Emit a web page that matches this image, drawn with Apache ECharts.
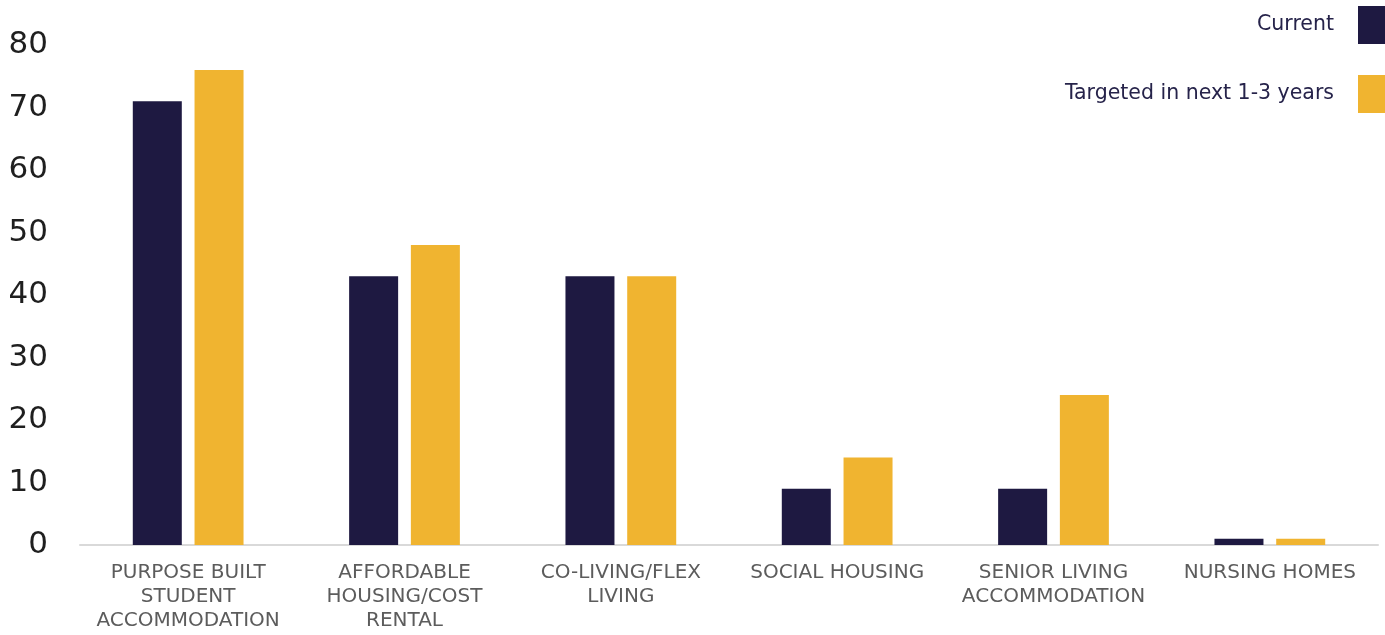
<!DOCTYPE html>
<html>
<head>
<meta charset="utf-8">
<script src="https://cdn.jsdelivr.net/npm/echarts@6/dist/echarts.min.js"></script>
<style>
  html, body { margin: 0; padding: 0; background: #ffffff; }
  #chart { width: 1385px; height: 635px; }
</style>
</head>
<body>
<div id="chart"></div>
<script>
// Living-sector allocations: current vs targeted
const categories = [
  'PURPOSE BUILT\nSTUDENT\nACCOMMODATION',
  'AFFORDABLE\nHOUSING/COST\nRENTAL',
  'CO-LIVING/FLEX\nLIVING',
  'SOCIAL HOUSING',
  'SENIOR LIVING\nACCOMMODATION',
  'NURSING HOMES'
];
const currentValues = [71, 43, 43, 9, 9, 1];
const targetedValues = [76, 48, 43, 14, 24, 1];
const seriesNames = ['Current', 'Targeted in next 1-3 years'];
const yTicks = { min: 0, max: 80, interval: 10 };

const NAVY = '#1e1941';
const GOLD = '#f0b430';
const FONT = '"DejaVu Sans", "Open Sans", sans-serif';

const chart = echarts.init(document.getElementById('chart'));
chart.setOption({
  animation: false,
  grid: { left: 80, right: 7, top: 45, bottom: 90, containLabel: false },
  legend: {
    orient: 'vertical',
    right: 0,
    top: 6,
    padding: 0,
    align: 'right',
    itemWidth: 27,
    itemHeight: 38,
    itemGap: 31,
    icon: 'rect',
    textStyle: { color: '#26234a', fontSize: 20.5, fontFamily: FONT, padding: [0, 19, 0, 0] },
    data: seriesNames
  },
  xAxis: {
    type: 'category',
    data: categories,
    axisLine: { show: true, lineStyle: { color: '#d9d9d9', width: 2 } },
    axisTick: { show: false },
    axisLabel: {
      interval: 0,
      color: '#5c5c5c',
      fontSize: 20,
      lineHeight: 24,
      fontFamily: FONT,
      margin: 16,
      align: 'center'
    }
  },
  yAxis: {
    type: 'value',
    min: yTicks.min,
    max: yTicks.max,
    interval: yTicks.interval,
    splitLine: { show: false },
    axisLine: { show: false },
    axisTick: { show: false },
    axisLabel: { color: '#1f1f1f', fontSize: 31, fontFamily: FONT, margin: 32 }
  },
  series: [
    {
      name: seriesNames[0],
      type: 'bar',
      data: currentValues,
      itemStyle: { color: NAVY },
      barWidth: 49,
      barGap: '26%'
    },
    {
      name: seriesNames[1],
      type: 'bar',
      data: targetedValues,
      itemStyle: { color: GOLD },
      barWidth: 49,
      barGap: '26%'
    }
  ]
});
</script>
</body>
</html>
